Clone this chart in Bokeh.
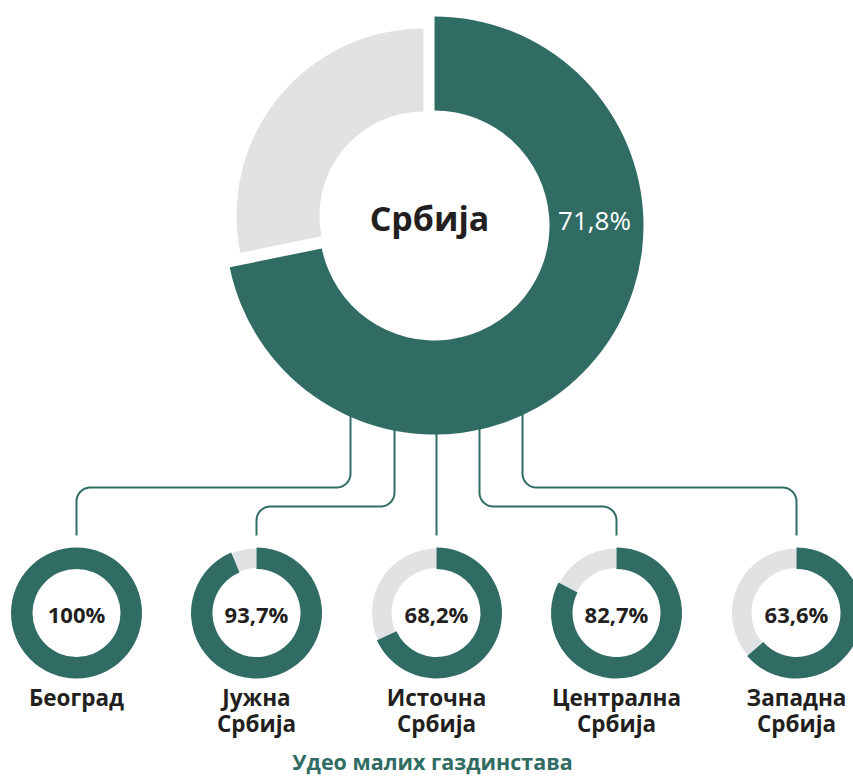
import numpy as np
from bokeh.plotting import figure
from bokeh.models import Range1d
from bokeh.core.properties import value
from bokeh.embed import file_html
from bokeh.resources import INLINE

# ---------------- data ----------------
total_label = "Србија"
total_share = 71.8
total_share_label = "71,8%"
region_line1 = ["Београд", "Јужна", "Источна", "Централна", "Западна"]
region_line2 = ["", "Србија", "Србија", "Србија", "Србија"]
region_shares = [100.0, 93.7, 68.2, 82.7, 63.6]
region_share_labels = ["100%", "93,7%", "68,2%", "82,7%", "63,6%"]
footer_text = "Удео малих газдинстава"

# ---------------- style / layout ----------------
GREEN = "#306c64"
GREY = "#e1e2e4"
DARK = "#231f20"
FONT = "Open Sans"
W, H = 853, 776


def Y(v):
    return H - np.asarray(v, dtype=float)


p = figure(width=W, height=H, x_range=Range1d(0, W), y_range=Range1d(0, H),
           output_backend="svg", toolbar_location=None, min_border=0)
p.axis.visible = False
p.grid.visible = False
p.outline_line_color = None
p.background_fill_color = "white"
p.border_fill_color = "white"

# big donut geometry
BX, BY = 434, 225
B_OUT, B_IN = 209, 115
G_X, G_Y = 423, 215          # exploded grey slice
G_OUT, G_IN = 187, 104

# small donuts geometry
small_x = [76, 256, 436, 616, 796]
small_y = 612.5
S_OUT, S_IN = 65.5, 44
SG_OUT, SG_IN = 64.5, 45

# connectors
stem_x = [350, 394, 436, 479, 522]
hline_y = [487, 506, None, 506, 487]
R = 14
Y_TOP, Y_BOT = 400, 535


def connector(x0, x1, yh):
    if yh is None:
        return [x0, x0], [Y_TOP, Y_BOT]
    s = np.sign(x1 - x0)
    t = np.linspace(0, np.pi / 2, 20)
    xs = [x0]
    ys = [Y_TOP]
    c1x, c1y = x0 + s * R, yh - R
    xs += list(c1x - s * R * np.cos(t))
    ys += list(c1y + R * np.sin(t))
    c2x, c2y = x1 - s * R, yh + R
    xs += list(c2x + s * R * np.sin(t))
    ys += list(c2y - R * np.cos(t))
    xs.append(x1)
    ys.append(Y_BOT)
    return xs, ys


cx, cy = [], []
for x0, x1, yh in zip(stem_x, small_x, hline_y):
    a, b = connector(x0, x1, yh)
    cx.append(list(a))
    cy.append(list(Y(b)))
p.multi_line(cx, cy, line_color=GREEN, line_width=2)

# big donut
frac = total_share / 100.0
p.annular_wedge(x=BX, y=float(Y(BY)), inner_radius=B_IN, outer_radius=B_OUT,
                start_angle=np.pi / 2, end_angle=np.pi / 2 - 2 * np.pi * frac,
                direction="clock", fill_color=GREEN, line_color=None)
p.annular_wedge(x=G_X, y=float(Y(G_Y)), inner_radius=G_IN, outer_radius=G_OUT,
                start_angle=np.pi / 2, end_angle=np.pi / 2 + 2 * np.pi * (1 - frac),
                direction="anticlock", fill_color=GREY, line_color=None)

p.text(x=[429], y=[float(Y(217))], text=[total_label], text_align="center",
       text_baseline="middle", text_font=value(FONT), text_font_style="bold",
       text_font_size="34px", text_color=DARK)
p.text(x=[594], y=[float(Y(219))], text=[total_share_label], text_align="center",
       text_baseline="middle", text_font=value(FONT), text_font_style="normal",
       text_font_size="26px", text_color="white")

# small donuts
for xc, share in zip(small_x, region_shares):
    f = share / 100.0
    if f < 1.0:
        p.annular_wedge(x=xc, y=float(Y(small_y)), inner_radius=SG_IN, outer_radius=SG_OUT,
                        start_angle=np.pi / 2, end_angle=np.pi / 2 + 2 * np.pi * (1 - f),
                        direction="anticlock", fill_color=GREY, line_color=None)
        p.annular_wedge(x=xc, y=float(Y(small_y)), inner_radius=S_IN, outer_radius=S_OUT,
                        start_angle=np.pi / 2, end_angle=np.pi / 2 - 2 * np.pi * f,
                        direction="clock", fill_color=GREEN, line_color=None)
    else:
        p.annulus(x=xc, y=float(Y(small_y)), inner_radius=S_IN, outer_radius=S_OUT,
                  fill_color=GREEN, line_color=None)

p.text(x=small_x, y=list(Y([613.5] * 5)), text=region_share_labels, text_align="center",
       text_baseline="middle", text_font=value(FONT), text_font_style="bold",
       text_font_size="22px", text_color=DARK)
p.text(x=small_x, y=list(Y([696.5] * 5)), text=region_line1, text_align="center",
       text_baseline="middle", text_font=value(FONT), text_font_style="bold",
       text_font_size="22.5px", text_color=DARK)
p.text(x=small_x, y=list(Y([723] * 5)), text=region_line2, text_align="center",
       text_baseline="middle", text_font=value(FONT), text_font_style="bold",
       text_font_size="22.5px", text_color=DARK)

p.text(x=[432], y=[float(Y(761))], text=[footer_text], text_align="center",
       text_baseline="middle", text_font=value(FONT), text_font_style="bold",
       text_font_size="21.5px", text_color=GREEN)

open("out.html", "w").write(file_html(p, INLINE))
